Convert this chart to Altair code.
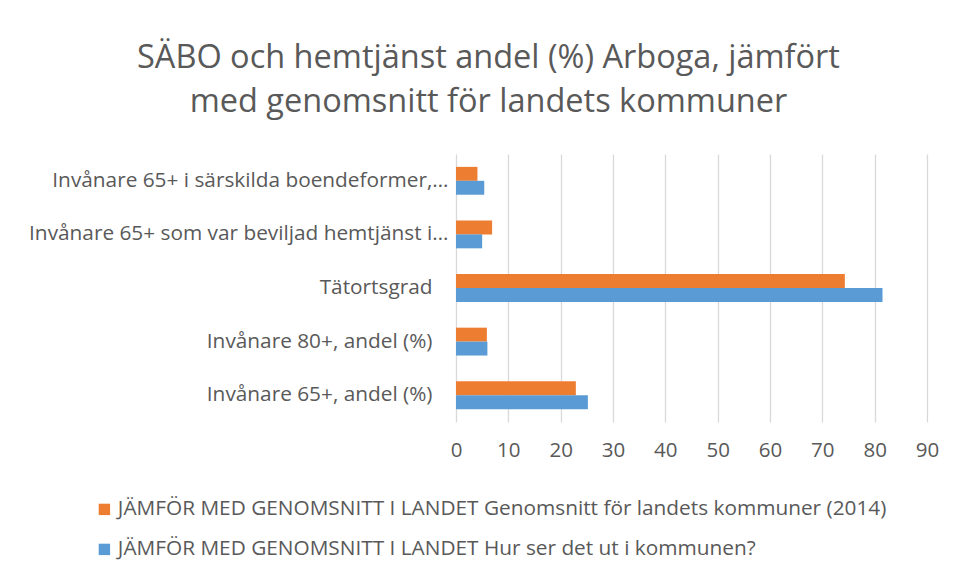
import altair as alt
import pandas as pd

categories = [
    "Invånare 65+ i särskilda boendeformer,…",
    "Invånare 65+ som var beviljad hemtjänst i…",
    "Tätortsgrad",
    "Invånare 80+, andel (%)",
    "Invånare 65+, andel (%)",
]
series_names = [
    "JÄMFÖR MED GENOMSNITT I LANDET Genomsnitt för landets kommuner (2014)",
    "JÄMFÖR MED GENOMSNITT I LANDET Hur ser det ut i kommunen?",
]
avg_values = [4.1, 6.9, 74.3, 5.9, 22.9]
kommun_values = [5.4, 5.0, 81.5, 6.0, 25.2]
colors = ["#ED7D31", "#5B9BD5"]
x_ticks = [0, 10, 20, 30, 40, 50, 60, 70, 80, 90]

rows = []
for c, a, k in zip(categories, avg_values, kommun_values):
    rows.append({"cat": c, "series": series_names[0], "value": a})
    rows.append({"cat": c, "series": series_names[1], "value": k})
df = pd.DataFrame(rows)

FONT = "Open Sans"
GRAY = "#595959"

chart = alt.Chart(df).mark_bar().encode(
    y=alt.Y("cat:N", sort=categories, title=None,
            scale=alt.Scale(paddingInner=0.48, paddingOuter=0.24),
            axis=alt.Axis(ticks=False, domain=False,
                          labelPadding={"condition": {"test": "indexof(datum.label, '…') >= 0",
                                                      "value": 8}, "value": 24},
                          labelFontSize=20.8, labelColor=GRAY, labelFont=FONT,
                          labelLimit=500)),
    yOffset=alt.YOffset("series:N", sort=series_names,
                        scale=alt.Scale(paddingInner=0, paddingOuter=0)),
    x=alt.X("value:Q", title=None,
            scale=alt.Scale(domain=[0, 90], nice=False),
            axis=alt.Axis(values=x_ticks, ticks=False, domain=False, grid=True,
                          gridColor="#D9D9D9", gridWidth=1.3, labelFlush=False,
                          labelPadding=18, labelFontSize=20.5, labelColor=GRAY,
                          labelFont=FONT)),
    color=alt.Color("series:N", sort=series_names,
                    scale=alt.Scale(domain=series_names, range=colors),
                    legend=alt.Legend(title=None, orient="none", legendX=-362, legendY=345,
                                      direction="vertical", symbolType="square",
                                      symbolSize=130, symbolStrokeWidth=0,
                                      labelFontSize=20.8, labelColor=GRAY, labelFont=FONT,
                                      labelLimit=900, rowPadding=18, labelOffset=3)),
).properties(
    width=471,
    height=268,
    title=alt.TitleParams(
        text=["SÄBO och hemtjänst andel (%) Arboga, jämfört",
              "med genomsnitt för landets kommuner"],
        fontSize=32.5, font=FONT, fontWeight="normal", color=GRAY,
        anchor="middle", dx=-203, offset=36, lineHeight=44,
    ),
    autosize=alt.AutoSizeParams(type="none"),
    padding={"left": 448, "top": 146, "right": 20, "bottom": 149},
    background="white",
).configure_view(strokeWidth=0, stroke="transparent")

chart.save("out.html", embed_options={"renderer": "svg", "actions": False})
